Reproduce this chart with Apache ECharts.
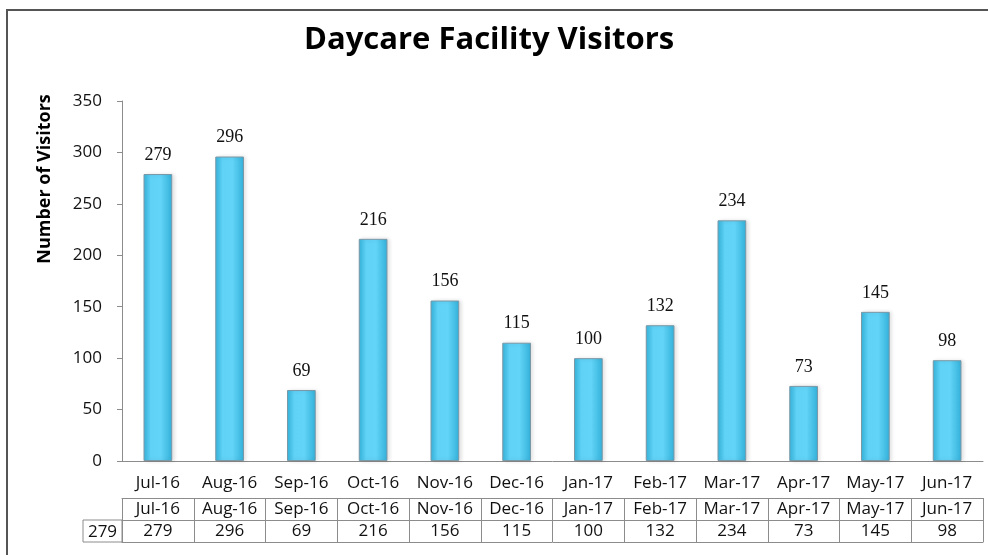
<!DOCTYPE html>
<html>
<head>
<meta charset="utf-8">
<script src="https://cdn.jsdelivr.net/npm/echarts@6/dist/echarts.min.js"></script>
<style>
  html, body { margin: 0; padding: 0; background: #fff; }
  #main { width: 988px; height: 555px; }
</style>
</head>
<body>
<div id="main"></div>
<script>
// chart data
var months = ["Jul-16", "Aug-16", "Sep-16", "Oct-16", "Nov-16", "Dec-16",
  "Jan-17", "Feb-17", "Mar-17", "Apr-17", "May-17", "Jun-17"];
var visitors = [279, 296, 69, 216, 156, 115, 100, 132, 234, 73, 145, 98];
var yTicks = [0, 50, 100, 150, 200, 250, 300, 350];

var chartDom = document.getElementById("main");
var myChart = echarts.init(chartDom);

var sans = "Open Sans";
var lineGray = "#8c8c8c";

// one table row = one extra category axis (line on top, ticks as cell borders)
const tableRow = (data, offset, showLabel) => ({
  type: "category",
  data: data,
  position: "bottom",
  offset: offset,
  axisLine: { show: true, lineStyle: { color: lineGray, width: 1 } },
  axisTick: { show: showLabel, length: 22, interval: 0, lineStyle: { color: lineGray } },
  axisLabel: { show: showLabel, interval: 0, margin: 3, fontFamily: sans, fontSize: 17, color: "#111" },
  splitLine: { show: false }
});

var barColor = new echarts.graphic.LinearGradient(0, 0, 1, 0, [
  { offset: 0, color: "#35b4dd" },
  { offset: 0.25, color: "#5fd2f6" },
  { offset: 0.6, color: "#62d4f7" },
  { offset: 1, color: "#33b0d9" }
]);

var option = {
  animation: false,
  title: {
    text: "Daycare Facility Visitors",
    left: 304,
    top: 25,
    padding: 0,
    textStyle: { fontFamily: sans, fontWeight: "bold", fontSize: 31, color: "#000" }
  },
  grid: { left: 122, right: 5, top: 101, bottom: 94 },
  xAxis: [
    {
      type: "category",
      data: months,
      axisLine: { lineStyle: { color: lineGray } },
      axisTick: { show: false },
      axisLabel: { interval: 0, margin: 14, fontFamily: sans, fontSize: 17, color: "#111" }
    },
    tableRow(months, 37, true),
    tableRow(visitors.map(String), 59, true),
    tableRow(months, 81, false)
  ],
  yAxis: {
    type: "value",
    min: yTicks[0],
    max: yTicks[yTicks.length - 1],
    interval: 50,
    axisLine: { show: true, lineStyle: { color: lineGray } },
    axisTick: { show: true, length: 5, lineStyle: { color: lineGray } },
    axisLabel: { margin: 20, fontFamily: sans, fontSize: 17, color: "#111" },
    splitLine: { show: false }
  },
  series: [
    {
      type: "bar",
      data: visitors,
      barWidth: "40%",
      itemStyle: {
        color: barColor,
        borderColor: "#7b98a6",
        borderWidth: 1,
        shadowColor: "rgba(0,0,0,0.12)",
        shadowBlur: 4,
        shadowOffsetX: 2
      },
      label: {
        show: true,
        position: "top",
        distance: 10,
        fontFamily: "Liberation Serif",
        fontSize: 18,
        color: "#111"
      }
    }
  ],
  graphic: [
    {
      // outer frame
      type: "rect",
      shape: { x: 7, y: 10, width: 990, height: 560 },
      style: { fill: null, stroke: "#555", lineWidth: 2 },
      silent: true
    },
    {
      type: "text",
      x: 45,
      y: 179,
      rotation: Math.PI / 2,
      style: {
        text: "Number of Visitors",
        fontFamily: sans,
        fontWeight: "bold",
        fontSize: 18,
        fill: "#000",
        textAlign: "center",
        textVerticalAlign: "middle"
      }
    },
    {
      // odd leading cell of the data table
      type: "rect",
      shape: { x: 83, y: 520, width: 39, height: 22 },
      style: { fill: null, stroke: lineGray, lineWidth: 1 }
    },
    {
      type: "text",
      x: 102.5,
      y: 532,
      style: {
        text: String(visitors[0]),
        fontFamily: sans,
        fontSize: 17,
        fill: "#111",
        textAlign: "center",
        textVerticalAlign: "middle"
      }
    }
  ]
};

if (option && typeof option === "object") {
  myChart.setOption(option);
}
window.onresize = function() {
  myChart.resize();
};
</script>
</body>
</html>
